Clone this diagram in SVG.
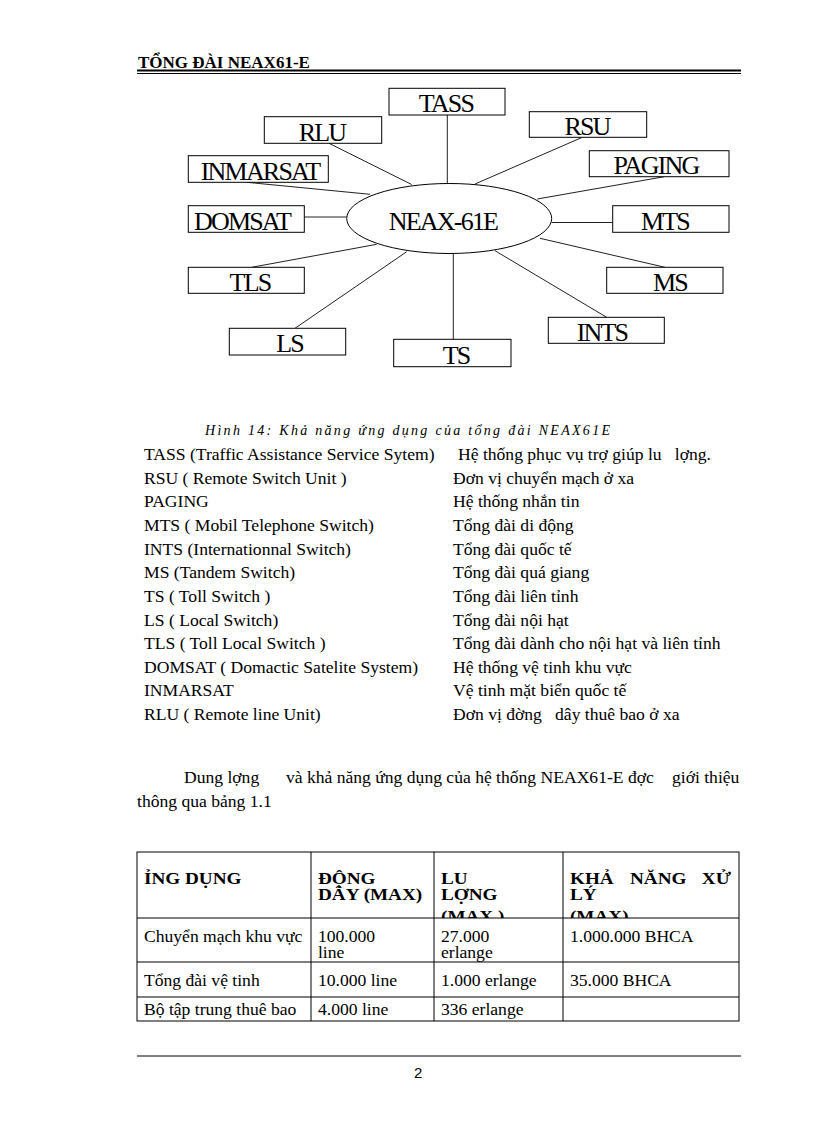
<svg xmlns="http://www.w3.org/2000/svg" width="816" height="1123" viewBox="0 0 816 1123">
<style>
  .bx { fill: #fff; stroke: #000; stroke-width: 1; }
  .cn { stroke: #222; stroke-width: 1; fill: none; }
  .nt { font-family: "Liberation Serif", "Times New Roman", serif; font-size: 26px; letter-spacing: -1.8px; fill: #000; text-anchor: middle; }
  .tx { font-family: "Liberation Serif", "Times New Roman", serif; font-size: 16px; fill: #000; }
  .th { font-family: "Liberation Serif", "Times New Roman", serif; font-size: 16px; font-weight: bold; fill: #000; }
  .cap { font-family: "Liberation Serif", "Times New Roman", serif; font-size: 14px; font-style: italic; fill: #000; }
  .tl { stroke: #000; stroke-width: 1; fill: none; }
</style>
<defs>
  <clipPath id="hdrclip"><rect x="137" y="852" width="602" height="66"/></clipPath>
</defs>
<rect width="816" height="1123" fill="#fff"/>

<!-- page header -->
<g id="page-header">
  <text x="138" y="68" font-family="Liberation Serif, serif" font-size="17" font-weight="bold" fill="#000">TỔNG ĐÀI NEAX61-E</text>
  <line x1="137" y1="70.5" x2="741" y2="70.5" stroke="#000" stroke-width="2"/>
  <line x1="137" y1="73.5" x2="741" y2="73.5" stroke="#000" stroke-width="1"/>
</g>

<!-- connectors -->
<g id="connectors">
  <line class="cn" x1="447.3" y1="115" x2="447.3" y2="183.5"/>
  <line class="cn" x1="329" y1="143.3" x2="411.7" y2="184.5"/>
  <line class="cn" x1="246.7" y1="182.3" x2="370" y2="194.3"/>
  <line class="cn" x1="304.3" y1="217" x2="346.7" y2="217"/>
  <line class="cn" x1="251.7" y1="267.3" x2="376.7" y2="244.3"/>
  <line class="cn" x1="295" y1="328.3" x2="406.7" y2="251.7"/>
  <line class="cn" x1="453.3" y1="253.5" x2="453.3" y2="339.3"/>
  <line class="cn" x1="582.3" y1="137.3" x2="475" y2="184"/>
  <line class="cn" x1="664.3" y1="176.7" x2="537.3" y2="199"/>
  <line class="cn" x1="551.7" y1="222.5" x2="612.7" y2="222.5"/>
  <line class="cn" x1="540" y1="238.3" x2="665" y2="267.3"/>
  <line class="cn" x1="495" y1="250.7" x2="606.7" y2="317.3"/>
</g>

<g id="node-center">
  <ellipse cx="449.2" cy="218.5" rx="102.5" ry="35" class="bx"/>
  <text class="nt" x="443" y="230">NEAX-61E</text>
</g>
<g id="node-tass"><rect class="bx" x="389" y="88.3" width="116" height="26.7"/><text class="nt" x="446" y="112.3">TASS</text></g>
<g id="node-rlu"><rect class="bx" x="264.3" y="116.7" width="117.4" height="26.6"/><text class="nt" x="322" y="140.7">RLU</text></g>
<g id="node-rsu"><rect class="bx" x="529.3" y="111.7" width="117.4" height="25.6"/><text class="nt" x="587" y="134.5">RSU</text></g>
<g id="node-inmarsat"><rect class="bx" x="188.3" y="155.7" width="140" height="26.6"/><text class="nt" x="260" y="179.5">INMARSAT</text></g>
<g id="node-paging"><rect class="bx" x="589.3" y="150.7" width="139.7" height="26"/><text class="nt" x="656" y="173.5">PAGING</text></g>
<g id="node-domsat"><rect class="bx" x="188.3" y="205.7" width="116" height="26.6"/><text class="nt" x="242" y="230">DOMSAT</text></g>
<g id="node-mts"><rect class="bx" x="612.7" y="205.7" width="116.3" height="26.6"/><text class="nt" x="665" y="230">MTS</text></g>
<g id="node-tls"><rect class="bx" x="188.3" y="267.3" width="116" height="26"/><text class="nt" x="250" y="290.7">TLS</text></g>
<g id="node-ms"><rect class="bx" x="606.7" y="267.3" width="116.3" height="26"/><text class="nt" x="670" y="290.7">MS</text></g>
<g id="node-ls"><rect class="bx" x="229.3" y="328.3" width="116.4" height="26.7"/><text class="nt" x="289.5" y="352">LS</text></g>
<g id="node-ints"><rect class="bx" x="548.3" y="317.3" width="116" height="26"/><text class="nt" x="602" y="340.5">INTS</text></g>
<g id="node-ts"><rect class="bx" x="393.7" y="339.3" width="117.3" height="27.4"/><text class="nt" x="456" y="363.5">TS</text></g>

<!-- caption -->
<text class="cap" x="205" y="435" textLength="405" lengthAdjust="spacing">Hình 14: Khả năng ứng dụng của tổng đài NEAX61E</text>

<!-- list (text widened 1.1x horizontally) -->
<g id="list" transform="scale(1.1 1)">
  <text class="tx" x="130.91" y="460">TASS (Traffic Assistance Service Sytem)</text>
  <text class="tx" x="416.36" y="460" xml:space="preserve">Hệ thống phục vụ trợ giúp lu   lợng.</text>
  <text class="tx" x="130.91" y="484">RSU ( Remote Switch Unit )</text>
  <text class="tx" x="411.82" y="484">Đơn vị chuyển mạch ở xa</text>
  <text class="tx" x="130.91" y="507">PAGING</text>
  <text class="tx" x="411.82" y="507">Hệ thống nhắn tin</text>
  <text class="tx" x="130.91" y="531">MTS ( Mobil Telephone Switch)</text>
  <text class="tx" x="411.82" y="531">Tổng đài di động</text>
  <text class="tx" x="130.91" y="555">INTS (Internationnal Switch)</text>
  <text class="tx" x="411.82" y="555">Tổng đài quốc tế</text>
  <text class="tx" x="130.91" y="578">MS (Tandem Switch)</text>
  <text class="tx" x="411.82" y="578">Tổng đài quá giang</text>
  <text class="tx" x="130.91" y="602">TS ( Toll Switch )</text>
  <text class="tx" x="411.82" y="602">Tổng đài liên tỉnh</text>
  <text class="tx" x="130.91" y="626">LS ( Local Switch)</text>
  <text class="tx" x="411.82" y="626">Tổng đài nội hạt</text>
  <text class="tx" x="130.91" y="649">TLS ( Toll Local Switch )</text>
  <text class="tx" x="411.82" y="649">Tổng đài dành cho nội hạt và liên tỉnh</text>
  <text class="tx" x="130.91" y="673">DOMSAT ( Domactic Satelite System)</text>
  <text class="tx" x="411.82" y="673">Hệ thống vệ tinh khu vực</text>
  <text class="tx" x="130.91" y="696">INMARSAT</text>
  <text class="tx" x="411.82" y="696">Vệ tinh mặt biển quốc tế</text>
  <text class="tx" x="130.91" y="720">RLU ( Remote line Unit)</text>
  <text class="tx" x="411.82" y="720" xml:space="preserve">Đơn vị đờng   dây thuê bao ở xa</text>
</g>

<!-- paragraph -->
<g id="paragraph" transform="scale(1.1 1)">
  <text class="tx" x="167.27" y="783">Dung lợng</text>
  <text class="tx" x="260" y="783">và khả năng ứng dụng của hệ thống NEAX61-E đợc</text>
  <text class="tx" x="610.9" y="783">giới thiệu</text>
  <text class="tx" x="124.55" y="807">thông qua bảng 1.1</text>
</g>

<!-- table -->
<g id="table">
  <rect class="tl" x="137" y="852" width="602" height="169"/>
  <line class="tl" x1="137" y1="918" x2="739" y2="918"/>
  <line class="tl" x1="137" y1="962" x2="739" y2="962"/>
  <line class="tl" x1="137" y1="997" x2="739" y2="997"/>
  <line class="tl" x1="311" y1="852" x2="311" y2="1021"/>
  <line class="tl" x1="434" y1="852" x2="434" y2="1021"/>
  <line class="tl" x1="563" y1="852" x2="563" y2="1021"/>
  <g clip-path="url(#hdrclip)">
    <g transform="scale(1.2 1)">
      <text class="th" x="120" y="884">ỈNG DỤNG</text>
      <text class="th" x="265" y="884">ĐỘNG</text>
      <text class="th" x="265" y="900">DÂY (MAX)</text>
      <text class="th" x="367.5" y="884">LU</text>
      <text class="th" x="367.5" y="900">LỢNG</text>
      <text class="th" x="367.5" y="922" xml:space="preserve">(MAX )</text>
      <text class="th" x="475" y="884">KHẢ</text>
      <text class="th" x="525" y="884">NĂNG</text>
      <text class="th" x="609.17" y="884" text-anchor="end">XỬ</text>
      <text class="th" x="475" y="900">LÝ</text>
      <text class="th" x="475" y="922">(MAX)</text>
    </g>
  </g>
  <g transform="scale(1.1 1)">
    <text class="tx" x="130.91" y="942">Chuyển mạch khu vực</text>
    <text class="tx" x="289.09" y="942">100.000</text>
    <text class="tx" x="289.09" y="958">line</text>
    <text class="tx" x="400.91" y="942">27.000</text>
    <text class="tx" x="400.91" y="958">erlange</text>
    <text class="tx" x="518.18" y="942">1.000.000 BHCA</text>
    <text class="tx" x="130.91" y="986">Tổng đài vệ tinh</text>
    <text class="tx" x="289.09" y="986">10.000 line</text>
    <text class="tx" x="400.91" y="986">1.000 erlange</text>
    <text class="tx" x="518.18" y="986">35.000 BHCA</text>
    <text class="tx" x="130.91" y="1015">Bộ tập trung thuê bao</text>
    <text class="tx" x="289.09" y="1015">4.000 line</text>
    <text class="tx" x="400.91" y="1015">336 erlange</text>
  </g>
</g>

<!-- footer -->
<g id="page-footer">
  <line x1="137" y1="1056" x2="741" y2="1056" stroke="#000" stroke-width="1"/>
  <text x="414" y="1078" font-family="Liberation Sans, Arial, sans-serif" font-size="15" fill="#000">2</text>
</g>
</svg>
